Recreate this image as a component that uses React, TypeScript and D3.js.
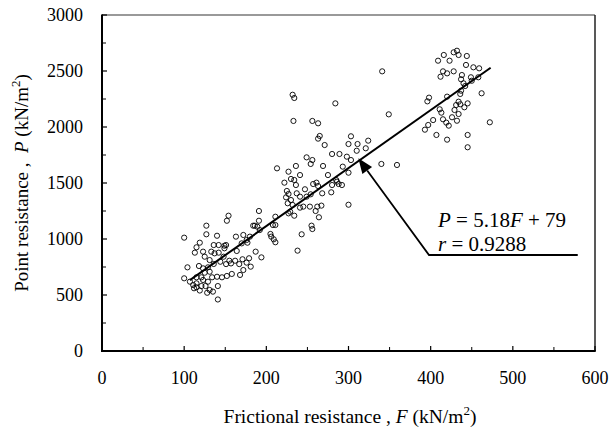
import React from "react";
import * as d3 from "d3";

// Frictional resistance F (kN/m2) and point resistance P (kN/m2)
const frictionF: number[] = [
  409, 416, 423, 428, 432, 434, 444, 443, 452, 459, 415, 420, 412, 428, 438, 437, 449, 450, 458, 440,
  442, 437, 436, 420, 398, 396, 462, 411, 413, 434, 436, 431, 429, 441, 445, 434, 426, 415, 419, 422,
  432, 403, 397, 393, 407, 420, 445, 445, 472,
  341, 284, 349, 340, 359, 303, 300, 311, 324, 321, 310, 298, 289, 280, 293, 300, 285, 303,
  232, 234, 233, 256, 263, 265, 263, 271, 249, 256, 254, 269, 213, 227, 236, 241, 230, 234, 222, 236,
  257, 261, 263, 275, 286, 288, 292, 280, 279, 268, 225, 227, 224, 237, 241, 247, 249, 254, 226, 230,
  232, 241, 245, 253, 262, 267, 260, 264, 300, 227, 229, 234, 255, 256, 243, 211, 208, 211, 205, 206,
  209, 211, 191, 191, 186, 189, 184, 192, 180, 176, 177, 170, 163, 172, 154, 152, 127, 127, 140, 142,
  136, 149, 151, 119,
  238, 194, 187, 179, 181, 176,
  100, 115, 113, 149, 123, 133, 137, 125, 131, 142, 148, 155, 144, 151, 157, 162, 167, 171, 164, 104,
  118, 123, 129, 136, 131, 125, 121, 115, 134, 140, 146, 152, 158, 168, 172, 100, 107, 111, 115, 121,
  126, 115, 129, 123, 141, 141,
  131, 135, 119, 112, 128,
];
const pointP: number[] = [
  2592, 2643, 2592, 2667, 2681, 2643, 2634, 2554, 2533, 2524, 2497, 2479, 2449, 2497, 2464, 2426, 2444, 2413, 2444, 2390,
  2366, 2324, 2295, 2271, 2262, 2229, 2301, 2158, 2128, 2226, 2203, 2196, 2152, 2176, 2211, 2116, 2087, 2069, 2039, 2012,
  2056, 2062, 2018, 1976, 1929, 1887, 1929, 1819, 2042,
  2497, 2211, 2113, 1670, 1661, 1917, 1848, 1848, 1878, 1810, 1788, 1735, 1759, 1759, 1646, 1592, 1527, 1705,
  2288, 2259, 2054, 2054, 2033, 1920, 1896, 1839, 1729, 1705, 1670, 1652, 1631, 1601, 1652, 1571, 1536, 1527, 1503, 1482,
  1491, 1503, 1473, 1571, 1512, 1491, 1482, 1482, 1417, 1408, 1429, 1402, 1372, 1408, 1378, 1444, 1378, 1399, 1319, 1348,
  1304, 1280, 1289, 1289, 1289, 1298, 1250, 1194, 1306, 1229, 1244, 1208, 1119, 1089, 1042, 1199, 1125, 1125, 1045, 1021,
  997, 971, 1250, 1163, 1119, 1110, 1119, 1080, 1021, 991, 967, 961, 1021, 1036, 1208, 1163, 1119, 1042, 1029, 946,
  946, 940, 946, 967,
  896, 836, 887, 828, 753, 789,
  1012, 926, 878, 917, 887, 887, 872, 842, 812, 878, 842, 806, 797, 776, 782, 806, 776, 819, 893, 747,
  759, 738, 747, 777, 708, 699, 658, 658, 658, 663, 658, 670, 688, 679, 723, 649, 619, 589, 569, 580,
  580, 604, 619, 634, 580, 460,
  545, 530, 540, 560, 520,
];

// Regression P = 5.18F + 79, drawn over this F range
const slope = 5.18;
const intercept = 79;
const fitRange: number[] = [107, 473];

// Annotation (data coordinates): arrow tip, elbow, end of leader
const arrowTip: number[] = [312, 1720];
const elbow: number[] = [398, 857];
const leaderEnd: number[] = [579, 857];

const xMajorTicks: number[] = [0, 100, 200, 300, 400, 500, 600];
const xMinorTicks: number[] = [50, 150, 250, 350, 450, 550];
const yMajorTicks: number[] = [0, 500, 1000, 1500, 2000, 2500, 3000];
const yMinorTicks: number[] = [250, 750, 1250, 1750, 2250, 2750];

const W = 610;
const H = 435;
const L = 102, R = 595, T = 15, B = 351;
const FONT = '"Liberation Serif", "Times New Roman", Times, "DejaVu Serif", serif';

export default function App() {
  const x = d3.scaleLinear().domain([0, 600]).range([L, R]);
  const y = d3.scaleLinear().domain([0, 3000]).range([B, T]);

  const fitLine = d3.line<number>().x((f) => x(f)).y((f) => y(slope * f + intercept))(fitRange) || "";

  const tx = x(arrowTip[0]), ty = y(arrowTip[1]);
  const ex = x(elbow[0]), ey = y(elbow[1]);
  const ang = Math.atan2(ty - ey, tx - ex);
  const headLen = 15, headW = 6;
  const bx = tx - headLen * Math.cos(ang), by = ty - headLen * Math.sin(ang);
  const px = -Math.sin(ang), py = Math.cos(ang);
  const head = `M${tx},${ty} L${bx + headW * px},${by + headW * py} L${bx - headW * px},${by - headW * py} Z`;

  const ts: React.CSSProperties = { fontFamily: FONT };

  return (
    <svg width={W} height={H} style={{ position: "absolute", left: 0, top: 0, background: "#fff", fontFamily: FONT }}>
      <rect x={0} y={0} width={W} height={H} fill="#fff" />
      {/* frame */}
      <line x1={L} y1={T} x2={R} y2={T} stroke="#777" strokeWidth={1.5} />
      <line x1={R} y1={T} x2={R} y2={B} stroke="#222" strokeWidth={1.5} />

      {/* ticks */}
      {yMajorTicks.map((v) => (
        <line key={"ym" + v} x1={L} x2={L + 5} y1={y(v)} y2={y(v)} stroke="#000" strokeWidth={1.2} />
      ))}
      {yMinorTicks.map((v) => (
        <line key={"yn" + v} x1={L} x2={L + 4} y1={y(v)} y2={y(v)} stroke="#000" strokeWidth={1} />
      ))}
      {xMajorTicks.map((v) => (
        <line key={"xm" + v} x1={x(v)} x2={x(v)} y1={B} y2={B - 5} stroke="#000" strokeWidth={1.2} />
      ))}
      {xMinorTicks.map((v) => (
        <line key={"xn" + v} x1={x(v)} x2={x(v)} y1={B} y2={B - 4} stroke="#000" strokeWidth={1} />
      ))}

      {/* points */}
      {frictionF.map((f, i) => (
        <circle key={i} cx={x(f)} cy={y(pointP[i])} r={2.6} fill="none" stroke="#000" strokeWidth={0.9} />
      ))}

      {/* regression line */}
      <path d={fitLine} fill="none" stroke="#000" strokeWidth={2} />

      {/* annotation */}
      <polyline
        points={`${x(leaderEnd[0])},${y(leaderEnd[1])} ${ex},${ey} ${bx},${by}`}
        fill="none"
        stroke="#000"
        strokeWidth={1.8}
      />
      <path d={head} fill="#000" />
      <text x={438} y={227} fontSize={21} fill="#000" style={ts}>
        <tspan fontStyle="italic">P</tspan> = 5.18<tspan fontStyle="italic">F</tspan> + 79
      </text>
      <text x={438} y={251} fontSize={21} fill="#000" style={ts}>
        <tspan fontStyle="italic">r</tspan> = 0.9288
      </text>

      {/* axes */}
      <line x1={L} y1={T - 0.5} x2={L} y2={B + 1} stroke="#000" strokeWidth={2} />
      <line x1={L - 1} y1={B} x2={R + 0.75} y2={B} stroke="#000" strokeWidth={2} />

      {/* tick labels */}
      {yMajorTicks.map((v) => (
        <text key={"yl" + v} x={L - 19} y={y(v) + 6} fontSize={18} textAnchor="end" fill="#000" style={ts}>
          {v}
        </text>
      ))}
      {xMajorTicks.map((v) => (
        <text key={"xl" + v} x={x(v)} y={384} fontSize={18} textAnchor="middle" fill="#000" style={ts}>
          {v}
        </text>
      ))}

      {/* axis titles */}
      <text x={350} y={423} fontSize={19.5} textAnchor="middle" fill="#000" style={ts}>
        Frictional resistance , <tspan fontStyle="italic">F</tspan> (kN/m
        <tspan dy={-8} fontSize={13}>2</tspan>
        <tspan dy={8}>)</tspan>
      </text>
      <text
        transform={`translate(28, ${(T + B) / 2}) rotate(-90)`}
        fontSize={19}
        textAnchor="middle"
        fill="#000"
        style={ts}
      >
        Point resistance ,{"\u00a0\u00a0"}<tspan fontStyle="italic">P</tspan> (kN/m
        <tspan dy={-8} fontSize={13}>2</tspan>
        <tspan dy={8}>)</tspan>
      </text>
    </svg>
  );
}
